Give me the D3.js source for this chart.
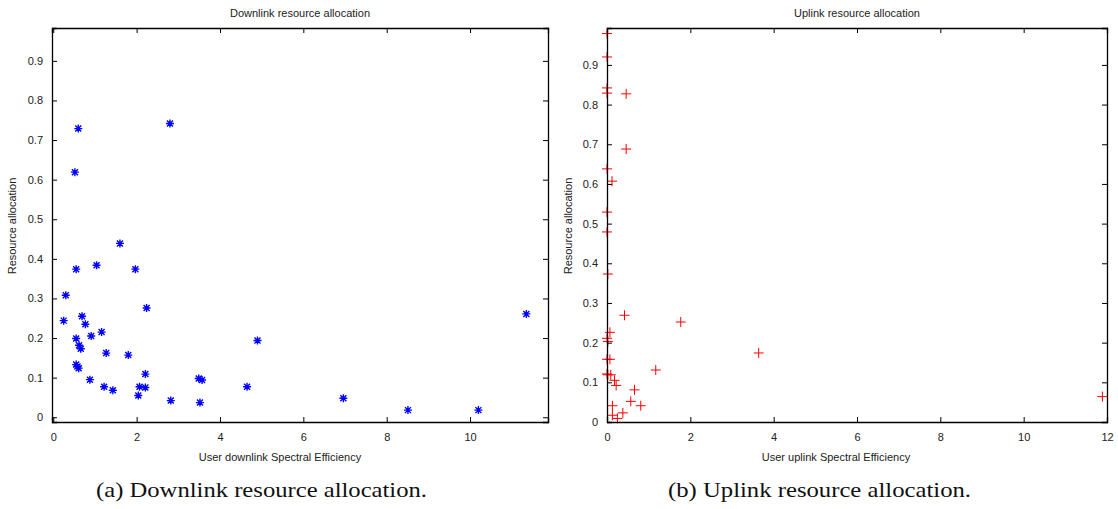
<!DOCTYPE html>
<html>
<head>
<meta charset="utf-8">
<script src="https://cdn.jsdelivr.net/npm/d3@7"></script>
<style>
  body { margin: 0; background: #fff; }
  .tick text { font-family: 'Liberation Sans', Arial, sans-serif; font-size: 11px; fill: #222; }
  .axis path, .axis line { stroke: #000; }
  .label { font-family: 'Liberation Sans', Arial, sans-serif; font-size: 11px; fill: #222; }
  .caption { font-family: 'Liberation Serif', 'DejaVu Serif', serif; font-size: 21px; fill: #111; }
</style>
</head>
<body>
<svg id="chart" width="1118" height="509"></svg>
<script>
// downlink: spectral efficiency vs resource allocation
const dlX = [0.25, 0.30, 0.55, 1.04, 1.60, 1.97, 2.24, 0.69, 0.77, 1.16, 0.91, 0.55, 0.62, 0.66,
  1.27, 1.80, 0.55, 0.58, 0.61, 0.88, 1.22, 1.43, 2.21, 2.07, 2.21, 2.04, 2.82, 3.49, 3.57,
  3.52, 4.65, 4.90, 6.96, 8.51, 10.20, 11.35, 0.60, 0.52, 2.80];
const dlY = [0.244, 0.308, 0.374, 0.384, 0.439, 0.374, 0.276, 0.255, 0.235, 0.215, 0.205, 0.199,
  0.182, 0.173, 0.162, 0.157, 0.133, 0.128, 0.124, 0.095, 0.077, 0.068, 0.109, 0.077, 0.075,
  0.055, 0.042, 0.098, 0.094, 0.037, 0.077, 0.194, 0.048, 0.018, 0.018, 0.261, 0.729, 0.619, 0.742];

// uplink
const ulX = [0, 0, 0, 0, 0, 0.12, 0, 0, 0.46, 0.46, 0.02, 0.42, 0.07, 0, 0.02, 0, 0.07, 0, 0.02,
  0.09, 0.18, 0.22, 0.13, 0.13, 0.25, 0.38, 0.57, 0.66, 0.81, 1.17, 1.77, 3.64, 11.89];
const ulY = [0.979, 0.92, 0.842, 0.829, 0.638, 0.607, 0.529, 0.479, 0.827, 0.688, 0.373, 0.269,
  0.226, 0.211, 0.203, 0.158, 0.158, 0.121, 0.119, 0.119, 0.105, 0.092, 0.041, 0.017, 0.009,
  0.023, 0.052, 0.081, 0.041, 0.131, 0.252, 0.174, 0.064];

const yTicks = [0, 0.1, 0.2, 0.3, 0.4, 0.5, 0.6, 0.7, 0.8, 0.9];
const dlXTicks = [0, 2, 4, 6, 8, 10];
const ulXTicks = [0, 2, 4, 6, 8, 10, 12];

const svg = d3.select('#chart');

const asterisk = 'M-4,0H4M0,-4V4M-3,-3L3,3M-3,3L3,-3';
const plus = 'M-5,0H5M0,-5V5';

function panel(opts) {
  const x = d3.scaleLinear().domain(opts.xDomain).range(opts.xRange);
  const y = d3.scaleLinear().domain(opts.yDomain).range([422, 28]);
  const [x0, x1] = opts.xRange;
  const g = svg.append('g');

  g.append('rect')
    .attr('x', x0).attr('y', 28)
    .attr('width', x1 - x0).attr('height', 394)
    .attr('fill', '#fff');

  // markers first so the box sits on top of them
  g.selectAll('path.pt')
    .data(opts.xs.map((v, i) => [v, opts.ys[i]]))
    .join('path')
    .attr('class', 'pt')
    .attr('d', opts.marker)
    .attr('transform', d => `translate(${x(d[0])},${y(d[1])})`)
    .attr('stroke', opts.color)
    .attr('stroke-width', opts.strokeWidth)
    .attr('fill', 'none');

  const bottom = g.append('g').attr('class', 'axis')
    .attr('transform', 'translate(0,422)')
    .call(d3.axisBottom(x).tickValues(opts.xTicks).tickSize(-5).tickPadding(11).tickFormat(d3.format('d')));
  const top = g.append('g').attr('class', 'axis')
    .attr('transform', 'translate(0,28)')
    .call(d3.axisTop(x).tickValues(opts.xTicks).tickSize(-5).tickFormat(''));
  const left = g.append('g').attr('class', 'axis')
    .attr('transform', `translate(${x0},0)`)
    .call(d3.axisLeft(y).tickValues(yTicks).tickSize(-5).tickPadding(9).tickFormat(d => d === 0 ? '0' : d3.format('.1f')(d)));
  const right = g.append('g').attr('class', 'axis')
    .attr('transform', `translate(${x1},0)`)
    .call(d3.axisRight(y).tickValues(yTicks).tickSize(-5).tickFormat(''));
  [bottom, top, left, right].forEach(a => a.select('.domain').attr('stroke-width', 1.3));

  g.append('text').attr('class', 'label')
    .attr('x', (x0 + x1) / 2).attr('y', 17)
    .attr('text-anchor', 'middle')
    .text(opts.title);
  g.append('text').attr('class', 'label')
    .attr('x', opts.xLabelX).attr('y', 461)
    .attr('text-anchor', 'middle')
    .text(opts.xLabel);
  g.append('text').attr('class', 'label')
    .attr('transform', `translate(${opts.yLabelX},226) rotate(-90)`)
    .attr('text-anchor', 'middle')
    .text('Resource allocation');
  g.append('text').attr('class', 'caption')
    .attr('x', opts.capX).attr('y', 497)
    .attr('textLength', opts.capW).attr('lengthAdjust', 'spacingAndGlyphs')
    .text(opts.caption);
}

panel({
  xDomain: [-0.03, 11.87], xRange: [52, 548], yDomain: [-0.012, 0.983],
  xs: dlX, ys: dlY, xTicks: dlXTicks,
  marker: asterisk, color: '#0000ff', strokeWidth: 1.4,
  title: 'Downlink resource allocation',
  xLabel: 'User downlink Spectral Efficiency', xLabelX: 280, yLabelX: 16,
  caption: '(a) Downlink resource allocation.', capX: 96, capW: 331
});

panel({
  xDomain: [0, 12], xRange: [607, 1107], yDomain: [0, 0.993],
  xs: ulX, ys: ulY, xTicks: ulXTicks,
  marker: plus, color: '#ff0000', strokeWidth: 1,
  title: 'Uplink resource allocation',
  xLabel: 'User uplink Spectral Efficiency', xLabelX: 836, yLabelX: 572,
  caption: '(b) Uplink resource allocation.', capX: 668, capW: 303
});
</script>
</body>
</html>
